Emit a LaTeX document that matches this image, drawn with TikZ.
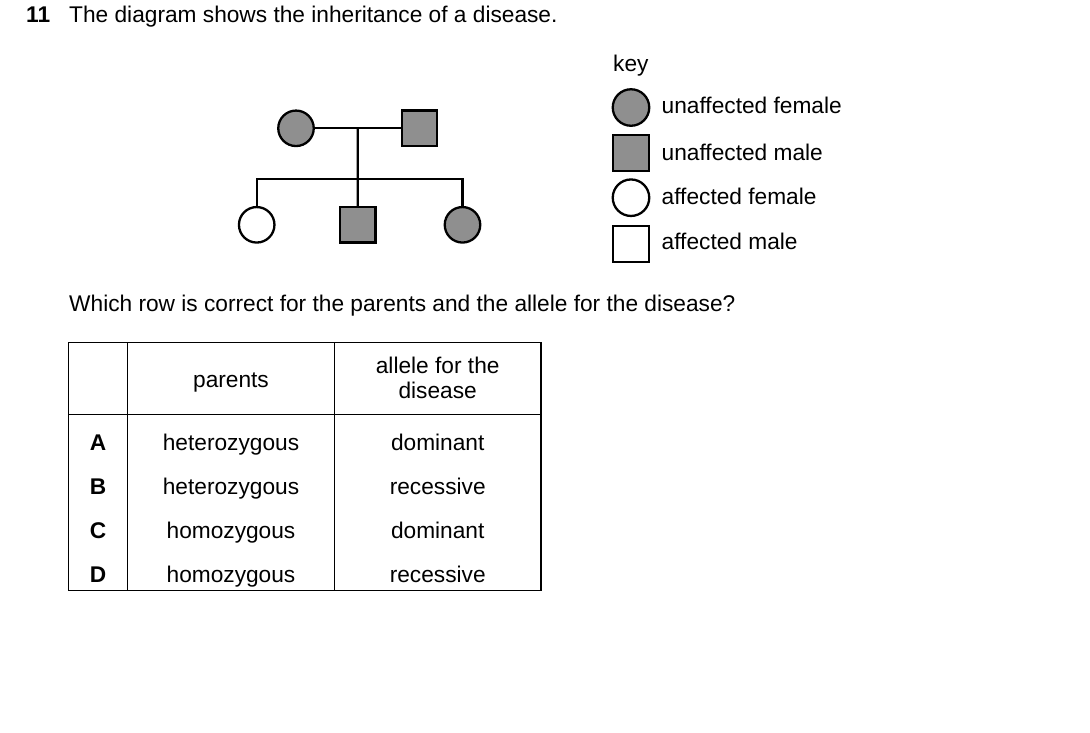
\documentclass[tikz,border=0pt]{standalone}
\usepackage{fontspec}
\setmainfont{Liberation Sans}
\usetikzlibrary{calc}
\definecolor{pedgray}{RGB}{143,143,143}
\begin{document}
\begin{tikzpicture}[x=1pt,y=-1pt,
  txt/.style={inner sep=0pt, anchor=base west, font=\fontsize{22.7}{27}\selectfont},
  ctxt/.style={inner sep=0pt, anchor=base, font=\fontsize{22.7}{27}\selectfont},
  female/.style={circle, draw, line width=2.3pt, minimum size=35.5pt, inner sep=0pt},
  male/.style={rectangle, draw, line width=2.3pt, minimum size=35.5pt, inner sep=0pt},
  unaff/.style={fill=pedgray},
  aff/.style={fill=white},
  pline/.style={line width=2.3pt},
  tline/.style={line width=1.2pt}]
\useasboundingbox (0,0) rectangle (1090,732);
\fill[white] (0,0) rectangle (1090,732);

% title
\node[txt, font=\fontsize{22.7}{27}\selectfont\bfseries] (num) at (26,22.5) {11};
\node[txt] (title) at (69,22.5) {The diagram shows the inheritance of a disease.};

% pedigree
\node[female, unaff] (mother) at (296,128.3) {};
\node[male, unaff] (father) at (419.5,128.3) {};
\node[female, aff] (c1) at (256.7,224.8) {};
\node[male, unaff] (c2) at (357.7,224.8) {};
\node[female, unaff] (c3) at (462.5,224.8) {};
\coordinate (mid) at ($(mother)!0.5!(father)$);
\coordinate (sib) at (357.7,179);
\draw[pline] (mother) -- (father);
\draw[pline] (mid) -- (c2.north);
\draw[pline] (c1.north) -- (c1.north |- sib) -- (c3.north |- sib) -- (c3.north);

% key
\node[txt] (key) at (613,71.5) {key};
\node[female, unaff, minimum size=36.5pt] (k1) at (631,107.5) {};
\node[male, unaff, minimum size=35.5pt] (k2) at (631,153) {};
\node[female, aff, minimum size=36.5pt] (k3) at (631,197.7) {};
\node[male, aff, minimum size=35.5pt] (k4) at (631,244) {};
\node[txt] (l1) at (661.5,113.5) {unaffected female};
\node[txt] (l2) at (661.5,160) {unaffected male};
\node[txt] (l3) at (661.5,204.5) {affected female};
\node[txt] (l4) at (661.5,249.5) {affected male};

% question
\node[txt] (q) at (69,311) {Which row is correct for the parents and the allele for the disease?};

% table
\draw[tline] (68.3,342.3) rectangle (541,590.7);
\draw[tline] (127.7,342.3) -- (127.7,590.7);
\draw[tline] (334.3,342.3) -- (334.3,590.7);
\draw[tline] (68.3,414.3) -- (541,414.3);

\node[ctxt] (hp) at (231,387) {parents};
\node[ctxt] (ha1) at (437.7,373.5) {allele for the};
\node[ctxt] (ha2) at (437.7,398.5) {disease};

\node[ctxt, font=\fontsize{22.7}{27}\selectfont\bfseries] (ra) at (98,450) {A};
\node[ctxt, font=\fontsize{22.7}{27}\selectfont\bfseries] (rb) at (98,494) {B};
\node[ctxt, font=\fontsize{22.7}{27}\selectfont\bfseries] (rc) at (98,538) {C};
\node[ctxt, font=\fontsize{22.7}{27}\selectfont\bfseries] (rd) at (98,582) {D};

\node[ctxt] (pa) at (231,450) {heterozygous};
\node[ctxt] (pb) at (231,494) {heterozygous};
\node[ctxt] (pc) at (231,538) {homozygous};
\node[ctxt] (pd) at (231,582) {homozygous};

\node[ctxt] (aa) at (437.7,450) {dominant};
\node[ctxt] (ab) at (437.7,494) {recessive};
\node[ctxt] (ac) at (437.7,538) {dominant};
\node[ctxt] (ad) at (437.7,582) {recessive};
\end{tikzpicture}
\end{document}
